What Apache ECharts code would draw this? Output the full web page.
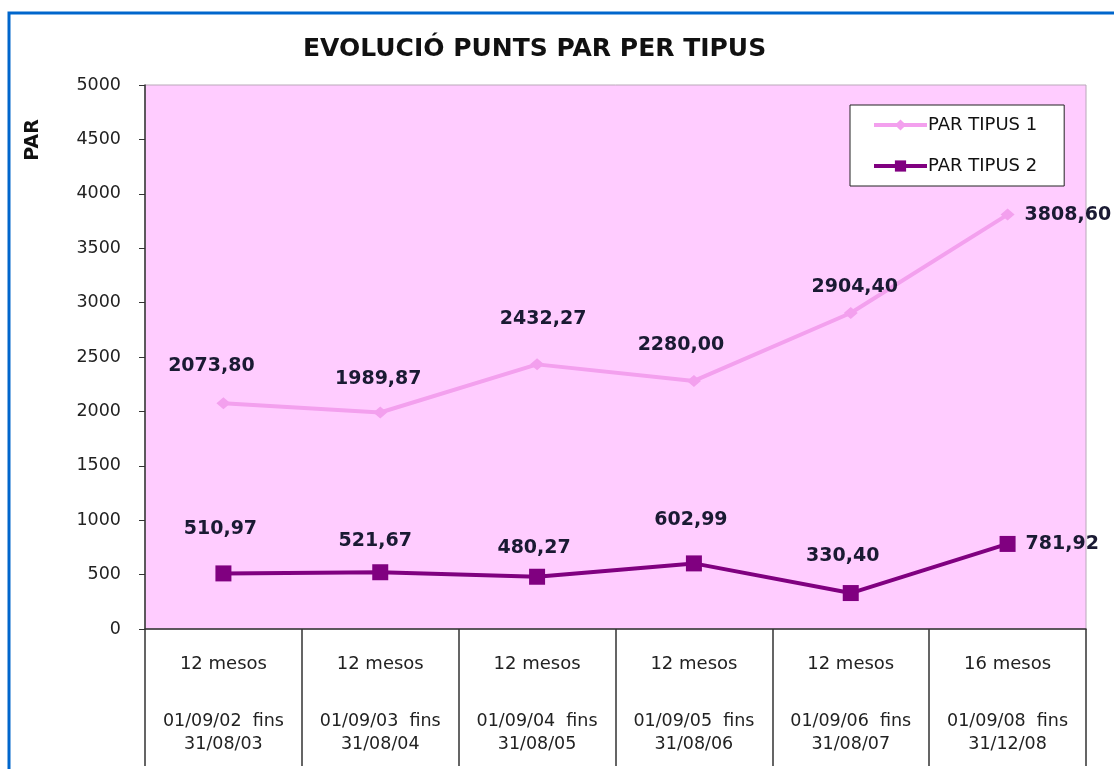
<!DOCTYPE html>
<html>
<head>
<meta charset="utf-8">
<title>Evolució punts PAR per tipus</title>
<script src="https://cdn.jsdelivr.net/npm/echarts@6/dist/echarts.min.js"></script>
<style>
  html, body { margin: 0; padding: 0; background: #fff; }
  #chart { width: 1114px; height: 769px; }
</style>
</head>
<body>
<div id="chart"></div>
<script>
// periodes (durada + interval de dates)
var durades = ['12 mesos', '12 mesos', '12 mesos', '12 mesos', '12 mesos', '16 mesos'];
var inicis = ['01/09/02', '01/09/03', '01/09/04', '01/09/05', '01/09/06', '01/09/08'];
var finals = ['31/08/03', '31/08/04', '31/08/05', '31/08/06', '31/08/07', '31/12/08'];

var parTipus1 = [2073.80, 1989.87, 2432.27, 2280.00, 2904.40, 3808.60];
var parTipus2 = [510.97, 521.67, 480.27, 602.99, 330.40, 781.92];

var yTicks = [0, 500, 1000, 1500, 2000, 2500, 3000, 3500, 4000, 4500, 5000];

// petits desplaçaments de les etiquetes, com a l'original [dx, dy]
var despl1 = [[-12, -2], [-2, 2], [6, -10], [-13, 0], [4, 10], [0, 0]];
var despl2 = [[-3, -7], [-5, 6], [-3, 9], [-3, -6], [-8, 1], [0, 0]];

var font = '"DejaVu Sans", Verdana, sans-serif';

var categories = durades.map(function (d, i) {
  return '{a|' + d + '}\n{gap| }\n{b|' + inicis[i] + '  fins}\n{b|' + finals[i] + '}';
});

function coma(v) {
  return v.toFixed(2).replace('.', ',');
}

// l'ultim punt porta l'etiqueta a la dreta
function punts(values, despl) {
  return values.map(function (v, i) {
    if (i === values.length - 1) {
      return { value: v, label: { position: 'right', distance: 10 } };
    }
    return { value: v, label: { offset: despl[i] } };
  });
}

var chart = echarts.init(document.getElementById('chart'));

var option = {
  backgroundColor: '#fff',
  animation: false,
  title: {
    text: 'EVOLUCIÓ PUNTS PAR PER TIPUS',
    left: 298,
    top: 32,
    textStyle: { fontFamily: font, fontSize: 25, fontWeight: 'bold', color: '#111' }
  },
  graphic: [
    {
      type: 'polyline',
      shape: { points: [[9, 769], [9, 13], [1114, 13]] },
      style: { stroke: '#0066CC', lineWidth: 3, fill: null }
    },
    {
      type: 'text',
      x: 33,
      y: 140,
      rotation: Math.PI / 2,
      style: {
        text: 'PAR',
        font: 'bold 19px ' + font,
        fill: '#111',
        align: 'center',
        verticalAlign: 'middle'
      }
    }
  ],
  legend: {
    orient: 'vertical',
    left: 850,
    top: 105,
    padding: [11, 27, 11, 22],
    itemGap: 23,
    itemWidth: 53,
    itemHeight: 14,
    backgroundColor: '#fff',
    borderColor: '#222',
    borderWidth: 1,
    borderRadius: 0,
    lineStyle: { width: 4 },
    textStyle: { fontFamily: font, fontSize: 18, color: '#111', padding: [0, 0, 0, -4] },
    data: ['PAR TIPUS 1', 'PAR TIPUS 2']
  },
  grid: {
    left: 145,
    top: 85,
    right: 28,
    bottom: 140,
    show: true,
    backgroundColor: '#FFCCFF',
    borderColor: '#b9a8b9',
    borderWidth: 1
  },
  xAxis: {
    type: 'category',
    data: categories,
    boundaryGap: true,
    axisLine: { lineStyle: { color: '#333', width: 1.5 } },
    axisTick: { show: true, interval: 0, length: 137, lineStyle: { color: '#333', width: 1.5 } },
    axisLabel: {
      interval: 0,
      margin: 24,
      color: '#222',
      fontFamily: font,
      rich: {
        a: { fontFamily: font, fontSize: 18, lineHeight: 23, color: '#222' },
        gap: { fontSize: 10, lineHeight: 34 },
        b: { fontFamily: font, fontSize: 17.5, lineHeight: 23, color: '#222' }
      }
    }
  },
  yAxis: {
    type: 'value',
    min: yTicks[0],
    max: yTicks[yTicks.length - 1],
    interval: 500,
    axisLine: { show: true, lineStyle: { color: '#333', width: 1.5 } },
    axisTick: { show: true, length: 6, lineStyle: { color: '#333' } },
    splitLine: { show: false },
    axisLabel: {
      margin: 24,
      fontFamily: font,
      fontSize: 17.5,
      color: '#222',
      formatter: function (v) { return String(v); }
    }
  },
  series: [
    {
      name: 'PAR TIPUS 1',
      type: 'line',
      data: punts(parTipus1, despl1),
      symbol: 'diamond',
      symbolSize: [14, 12],
      lineStyle: { color: '#F3A0EE', width: 4 },
      itemStyle: { color: '#F3A0EE' },
      label: {
        show: true,
        position: 'top',
        distance: 20,
        fontFamily: font,
        fontSize: 19,
        fontWeight: 'bold',
        color: '#1a1a33',
        formatter: function (p) { return coma(p.value); }
      }
    },
    {
      name: 'PAR TIPUS 2',
      type: 'line',
      data: punts(parTipus2, despl2),
      symbol: 'rect',
      symbolSize: 16,
      lineStyle: { color: '#800080', width: 4 },
      itemStyle: { color: '#800080' },
      label: {
        show: true,
        position: 'top',
        distance: 20,
        fontFamily: font,
        fontSize: 19,
        fontWeight: 'bold',
        color: '#1a1a33',
        formatter: function (p) { return coma(p.value); }
      }
    }
  ]
};

chart.setOption(option);
</script>
</body>
</html>
